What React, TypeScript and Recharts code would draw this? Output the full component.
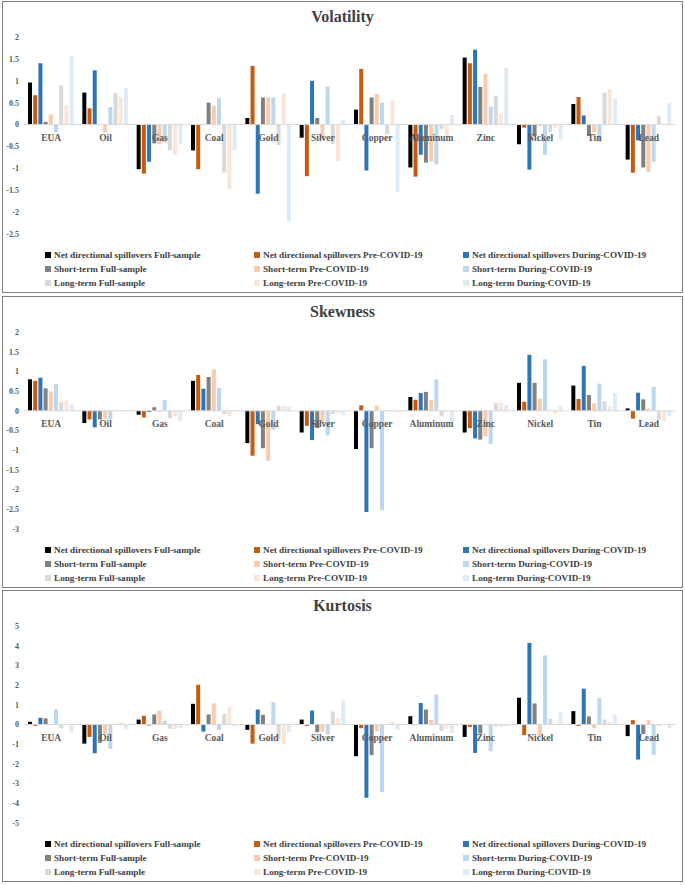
import React from 'react';
import { BarChart, Bar, XAxis, YAxis, ReferenceLine, Legend } from 'recharts';

const SERIF = "'Liberation Serif', 'Times New Roman', serif";

const categories = ['EUA', 'Oil', 'Gas', 'Coal', 'Gold', 'Silver', 'Copper', 'Aluminum', 'Zinc', 'Nickel', 'Tin', 'Lead'];

const seriesNames = [
  'Net directional spillovers Full-sample',
  'Net directional spillovers Pre-COVID-19',
  'Net directional spillovers During-COVID-19',
  'Short-term Full-sample',
  'Short-term Pre-COVID-19',
  'Short-term During-COVID-19',
  'Long-term Full-sample',
  'Long-term Pre-COVID-19',
  'Long-term During-COVID-19',
];

const seriesColors = ['#000000', '#C55A11', '#2E75B6', '#808080', '#F8CBAD', '#BDD7EE', '#D9D9D9', '#FBE5D6', '#DEEBF7'];

// one row per series (same order as seriesNames), one value per category
const volatilityValues = [
  [0.96, 0.73, -1.02, -0.59, 0.15, -0.3, 0.34, -0.98, 1.53, -0.45, 0.47, -0.8],
  [0.67, 0.37, -1.12, -1.02, 1.34, -1.18, 1.27, -1.19, 1.4, -0.07, 0.63, -1.1],
  [1.4, 1.24, -0.85, 0, -1.58, 1.0, -1.05, -0.69, 1.71, -1.03, 0.21, -0.36],
  [0.06, 0.01, -0.43, 0.5, 0.62, 0.15, 0.62, -0.87, 0.86, -0.26, -0.26, -0.98],
  [0.23, -0.18, -0.45, 0.43, 0.62, -0.34, 0.7, -0.85, 1.16, -0.03, -0.18, -1.08],
  [-0.18, 0.4, -0.41, 0.6, 0.62, 0.87, 0.5, -0.91, 0.41, -0.69, -0.39, -0.85],
  [0.9, 0.72, -0.59, -1.1, -0.47, -0.44, -0.22, -0.11, 0.66, -0.17, 0.73, 0.19],
  [0.44, 0.63, -0.69, -1.47, 0.72, -0.83, 0.56, -0.26, 0.24, -0.08, 0.81, 0.01],
  [1.57, 0.83, -0.45, -0.59, -2.22, 0.11, -1.54, 0.22, 1.29, -0.34, 0.6, 0.49],
];

const skewnessValues = [
  [0.8, -0.31, -0.1, 0.76, -0.82, -0.55, -0.97, 0.35, -0.55, 0.71, 0.64, 0.06],
  [0.76, -0.22, -0.17, 0.91, -1.14, -0.38, 0.14, 0.28, -0.44, 0.23, 0.3, -0.2],
  [0.84, -0.42, -0.03, 0.56, -0.34, -0.74, -2.57, 0.45, -0.7, 1.42, 1.14, 0.46],
  [0.57, -0.22, 0.09, 0.86, -0.95, -0.44, -0.95, 0.48, -0.73, 0.71, 0.4, 0.29],
  [0.49, -0.2, -0.03, 1.05, -1.27, -0.3, 0.13, 0.27, -0.65, 0.31, 0.19, 0.06],
  [0.68, -0.22, 0.27, 0.58, -0.48, -0.62, -2.52, 0.8, -0.84, 1.31, 0.69, 0.61],
  [0.22, -0.01, -0.19, -0.08, 0.13, -0.08, 0.01, -0.14, 0.19, 0.01, 0.24, -0.22],
  [0.26, -0.01, -0.14, -0.14, 0.13, -0.07, 0.01, 0.01, 0.21, -0.07, 0.11, -0.27],
  [0.16, -0.01, -0.25, 0.01, 0.11, -0.11, -0.03, -0.3, 0.15, 0.11, 0.44, -0.14],
];

const kurtosisValues = [
  [0.14, -0.97, 0.25, 1.05, -0.27, 0.25, -1.61, 0.42, -0.63, 1.36, 0.68, -0.59],
  [-0.07, -0.63, 0.44, 2.02, -0.97, -0.07, -0.19, -0.03, -0.12, -0.54, -0.07, 0.22],
  [0.34, -1.46, -0.05, -0.36, 0.76, 0.71, -3.72, 1.09, -1.44, 4.14, 1.82, -1.78],
  [0.31, -0.93, 0.51, 0.51, 0.49, -0.39, -1.56, 0.76, -0.46, 1.07, 0.41, -0.48],
  [0.01, -0.48, 0.71, 1.07, 0.03, -0.36, -0.34, 0.24, 0.03, -0.59, -0.19, 0.22],
  [0.76, -1.24, 0.19, -0.27, 1.14, -0.51, -3.43, 1.53, -1.36, 3.51, 1.34, -1.54],
  [-0.19, 0.01, -0.22, 0.53, -0.76, 0.66, 0.01, -0.32, -0.1, 0.29, 0.25, -0.08],
  [0.01, 0.1, -0.24, 0.9, -1.0, 0.31, 0.15, -0.24, -0.12, 0.03, 0.14, 0.01],
  [-0.39, -0.22, -0.17, -0.08, -0.39, 1.22, -0.27, -0.42, -0.08, 0.61, 0.48, -0.2],
];

const volatilityTicks = [2, 1.5, 1, 0.5, 0, -0.5, -1, -1.5, -2, -2.5];
const skewnessTicks = [2, 1.5, 1, 0.5, 0, -0.5, -1, -1.5, -2, -2.5, -3];
const kurtosisTicks = [5, 4, 3, 2, 1, 0, -1, -2, -3, -4, -5];

const PANEL_H = 292;
const MARGIN = { top: 36, right: 9, bottom: 3, left: 0 };
const XAXIS_H = 1;
const LEGEND_H = 55;
const PLOT_H = PANEL_H - MARGIN.top - MARGIN.bottom - LEGEND_H - XAXIS_H;

// category names sit just under the zero line (Excel "axis at zero" look)
const makeCategoryTick = (min: number, max: number) => (props: any) => {
  const { x, y, payload } = props;
  const zeroFromBottom = (PLOT_H * -min) / (max - min);
  return (
    <text
      x={x}
      y={y - zeroFromBottom + 13.5}
      textAnchor="middle"
      dominantBaseline="central"
      fontFamily={SERIF}
      fontWeight={700}
      fontSize={9.5}
      fill="#595959"
    >
      {payload.value}
    </text>
  );
};

const LegendGrid = () => (
  <div style={{ position: 'relative', height: LEGEND_H, width: 685 }}>
    {seriesNames.map((name, i) => (
      <div
        key={name}
        style={{
          position: 'absolute',
          left: 45 + (i % 3) * 209,
          top: 13 + Math.floor(i / 3) * 14,
          height: 14,
          lineHeight: '14px',
          display: 'flex',
          alignItems: 'center',
          whiteSpace: 'nowrap',
          fontFamily: SERIF,
          fontWeight: 700,
          fontSize: 9.2,
          color: '#404040',
        }}
      >
        <span style={{ display: 'inline-block', width: 6, height: 6, background: seriesColors[i], marginRight: 3 }} />
        {name}
      </div>
    ))}
  </div>
);

function Panel({ title, values, ticks, top }: { title: string; values: number[][]; ticks: number[]; top: number }) {
  const rows = categories.map((name, i) => {
    const row: Record<string, string | number> = { name };
    values.forEach((v, s) => {
      row[`s${s}`] = v[i];
    });
    return row;
  });
  const min = ticks[ticks.length - 1];
  const max = ticks[0];

  return (
    <div style={{ position: 'absolute', left: 0, top, width: 685, height: PANEL_H }}>
      <div
        style={{
          position: 'absolute',
          top: 6,
          left: 0,
          width: 685,
          textAlign: 'center',
          lineHeight: '20px',
          fontFamily: SERIF,
          fontWeight: 700,
          fontSize: 16,
          color: '#404040',
        }}
      >
        {title}
      </div>
      <BarChart width={685} height={PANEL_H} data={rows} margin={MARGIN} barSize={4} barGap={1.2}>
        <XAxis
          dataKey="name"
          height={XAXIS_H}
          axisLine={false}
          tickLine={false}
          tickSize={0}
          tickMargin={0}
          interval={0}
          tick={makeCategoryTick(min, max)}
        />
        <YAxis
          domain={[min, max]}
          ticks={ticks}
          interval={0}
          width={24}
          axisLine={false}
          tickLine={false}
          tickSize={0}
          tickMargin={5}
          tick={{ fontSize: 8, fontWeight: 700, fill: '#595959', fontFamily: SERIF }}
        />
        <ReferenceLine y={0} stroke="#D9D9D9" strokeWidth={1} />
        {seriesNames.map((name, s) => (
          <Bar key={name} dataKey={`s${s}`} name={name} fill={seriesColors[s]} isAnimationActive={false} />
        ))}
        <Legend verticalAlign="bottom" content={LegendGrid} wrapperStyle={{ left: 0, width: 685 }} />
      </BarChart>
      <div
        style={{
          position: 'absolute',
          left: 2,
          top: 0,
          width: 681,
          height: PANEL_H,
          boxSizing: 'border-box',
          border: '1.5px solid #7F7F7F',
          pointerEvents: 'none',
        }}
      />
    </div>
  );
}

export default function App() {
  return (
    <div style={{ position: 'relative', width: 685, height: 885, background: '#ffffff' }}>
      <style>{'body{margin:0;}'}</style>
      <Panel title="Volatility" values={volatilityValues} ticks={volatilityTicks} top={1} />
      <Panel title="Skewness" values={skewnessValues} ticks={skewnessTicks} top={296} />
      <Panel title="Kurtosis" values={kurtosisValues} ticks={kurtosisTicks} top={590} />
    </div>
  );
}
